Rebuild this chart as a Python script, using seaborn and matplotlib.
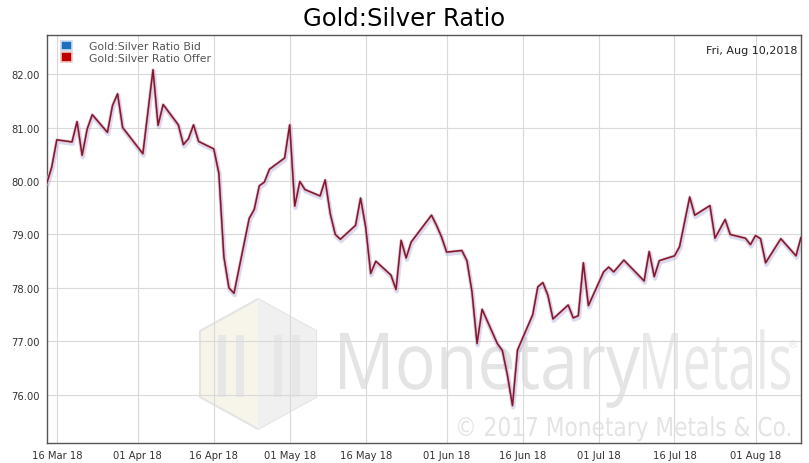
import pandas as pd
import seaborn as sns
import matplotlib.pyplot as plt
import matplotlib.dates as mdates
import matplotlib.patheffects as pe
from matplotlib.patches import Patch, Polygon, Rectangle, PathPatch
from matplotlib.textpath import TextPath
from matplotlib.font_manager import FontProperties
from matplotlib.transforms import Affine2D

dates = [
    '2018-03-14', '2018-03-15', '2018-03-16', '2018-03-19', '2018-03-20', '2018-03-21',
    '2018-03-22', '2018-03-23', '2018-03-26', '2018-03-27', '2018-03-28', '2018-03-29',
    '2018-04-02', '2018-04-04', '2018-04-05', '2018-04-06', '2018-04-09', '2018-04-10',
    '2018-04-11', '2018-04-12', '2018-04-13', '2018-04-16', '2018-04-17', '2018-04-18',
    '2018-04-19', '2018-04-20', '2018-04-23', '2018-04-24', '2018-04-25', '2018-04-26',
    '2018-04-27', '2018-04-30', '2018-05-01', '2018-05-02', '2018-05-03', '2018-05-04',
    '2018-05-07', '2018-05-08', '2018-05-09', '2018-05-10', '2018-05-11', '2018-05-14',
    '2018-05-15', '2018-05-16', '2018-05-17', '2018-05-18', '2018-05-21', '2018-05-22',
    '2018-05-23', '2018-05-24', '2018-05-25', '2018-05-29', '2018-05-30', '2018-05-31',
    '2018-06-01', '2018-06-04', '2018-06-05', '2018-06-06', '2018-06-07', '2018-06-08',
    '2018-06-11', '2018-06-12', '2018-06-13', '2018-06-14', '2018-06-15', '2018-06-18',
    '2018-06-19', '2018-06-20', '2018-06-21', '2018-06-22', '2018-06-25', '2018-06-26',
    '2018-06-27', '2018-06-28', '2018-06-29', '2018-07-02', '2018-07-03', '2018-07-04',
    '2018-07-06', '2018-07-10', '2018-07-11', '2018-07-12', '2018-07-13', '2018-07-16',
    '2018-07-17', '2018-07-19', '2018-07-20', '2018-07-23', '2018-07-24', '2018-07-26',
    '2018-07-27', '2018-07-30', '2018-07-31', '2018-08-01', '2018-08-02', '2018-08-03',
    '2018-08-06', '2018-08-09', '2018-08-10',
]

offer_ratio = [
    79.95, 80.26, 80.77, 80.73, 81.11, 80.48,
    80.97, 81.24, 80.91, 81.41, 81.63, 81.00,
    80.51, 82.08, 81.04, 81.43, 81.05, 80.68,
    80.79, 81.05, 80.74, 80.60, 80.15, 78.58,
    78.00, 77.90, 79.30, 79.47, 79.91, 79.98,
    80.22, 80.43, 81.05, 79.53, 79.99, 79.84,
    79.72, 80.02, 79.39, 79.00, 78.91, 79.17,
    79.68, 79.14, 78.27, 78.50, 78.24, 77.97,
    78.89, 78.56, 78.86, 79.36, 79.17, 78.95,
    78.67, 78.70, 78.51, 77.93, 76.96, 77.60,
    76.96, 76.83, 76.37, 75.80, 76.84, 77.50,
    78.02, 78.10, 77.86, 77.42, 77.68, 77.44,
    77.48, 78.47, 77.67, 78.30, 78.39, 78.30,
    78.52, 78.13, 78.68, 78.21, 78.51, 78.60,
    78.77, 79.70, 79.36, 79.54, 78.93, 79.28,
    79.00, 78.93, 78.81, 78.98, 78.92, 78.47,
    78.92, 78.60, 78.95,
]

# bid sits right under the offer at this scale, same readings
bid_ratio = offer_ratio

tick_dates = ['2018-03-16', '2018-04-01', '2018-04-16', '2018-05-01', '2018-05-16',
              '2018-06-01', '2018-06-16', '2018-07-01', '2018-07-16', '2018-08-01']
y_ticks = [76, 77, 78, 79, 80, 81, 82]

df = pd.DataFrame({'Date': pd.to_datetime(dates), 'Bid': bid_ratio, 'Offer': offer_ratio})

sns.set_style('white')
plt.rcParams['font.family'] = ['DejaVu Sans']

W, H = 809, 464
fig = plt.figure(figsize=(W / 100, H / 100), dpi=100)
ax = fig.add_axes([0.0577, 0.0431, 0.9325, 0.8793])

sns.lineplot(data=df, x='Date', y='Bid', ax=ax, color='#3a3a80', linewidth=1.3, zorder=3,
             path_effects=[pe.SimpleLineShadow(offset=(0.5, -1.3), shadow_color='#9a9ad8',
                                               alpha=0.35, linewidth=3.2), pe.Normal()])
sns.lineplot(data=df, x='Date', y='Offer', ax=ax, color='#851526', linewidth=1.0, zorder=4,
             path_effects=[pe.Stroke(linewidth=2.4, foreground='#f0bcc6', alpha=0.6), pe.Normal()])

ax.set_xlim(pd.Timestamp('2018-03-14'), pd.Timestamp('2018-08-10'))
ax.set_ylim(75.1, 82.73)
ax.set_xticks(pd.to_datetime(tick_dates))
ax.xaxis.set_major_formatter(mdates.DateFormatter('%d %b %y'))
ax.set_yticks(y_ticks)
ax.set_yticklabels([f'{v:.2f}' for v in y_ticks])
ax.tick_params(length=0, labelsize=7.2, labelcolor='#333333', pad=5)
ax.set_xlabel('')
ax.set_ylabel('')
ax.grid(True, color='#d9d9d9', linewidth=0.8)
ax.set_axisbelow(True)
for s in ax.spines.values():
    s.set_color('#555555')
    s.set_linewidth(1.0)

fig.suptitle('Gold:Silver Ratio', fontsize=17.5, y=0.985, color='black')

handles = [Patch(facecolor='#1f6fbf', edgecolor='#c8dcf0', linewidth=1.2),
           Patch(facecolor='#c00000', edgecolor='#eec8c8', linewidth=1.2)]
leg = ax.legend(handles, ['Gold:Silver Ratio Bid', 'Gold:Silver Ratio Offer'],
                loc='upper left', bbox_to_anchor=(0.006, 1.01), frameon=False,
                handlelength=1.0, handleheight=1.0, handletextpad=1.6,
                labelspacing=0.1, fontsize=7.8)
for t in leg.get_texts():
    t.set_color('#555555')

ax.text(0.995, 0.975, 'Fri, Aug 10,2018', transform=ax.transAxes, ha='right', va='top',
        fontsize=8.0, color='#222222')

# watermark, placed in figure pixels (top-left origin)
def add_word(text, x0, x1, baseline, cap, color, family='Open Sans'):
    fp = FontProperties(family=family)
    path = TextPath((0, 0), text, size=100, prop=fp)
    ext = path.get_extents()
    cap_h = TextPath((0, 0), 'M', size=100, prop=fp).get_extents().height
    sx = (x1 - x0) / ext.width
    sy = cap / cap_h
    tr = (Affine2D().translate(-ext.x0, 0).scale(sx / 100, sy / 100)
          .translate(x0 / 100, (H - baseline) / 100) + fig.dpi_scale_trans)
    ax.add_patch(PathPatch(path, transform=tr, facecolor=color, edgecolor='none',
                           zorder=0.2, clip_on=False))

add_word('Monetary', 340, 640, 390, 56, '#e4e4e4')
add_word('Metals', 643, 790, 390, 56, '#e9e9e9')
add_word('\u00a9 2017 Monetary Metals & Co.', 458, 790, 437, 19, '#e4e4e4', 'DejaVu Sans')
add_word('\u00ae', 789, 797, 349, 8, '#e4e4e4', 'DejaVu Sans')

def px(x, y):
    return ((x - 46.7) / (801 - 46.7), (444 - y) / (444 - 36))

logo_kw = dict(transform=ax.transAxes, zorder=0.2, clip_on=False)
ax.add_patch(Polygon([px(258, 300), px(316, 332), px(316, 398), px(258, 430),
                      px(200, 398), px(200, 332)], closed=True,
                     facecolor='#f7f4ea', edgecolor='#e4e4e4', linewidth=1.5, **logo_kw))
ax.add_patch(Polygon([px(258, 300), px(316, 332), px(316, 398), px(258, 430)], closed=True,
                     facecolor='#f0f0f0', edgecolor='none', **logo_kw))
for bx in [218, 236, 274, 292]:
    lo = px(bx, 398)
    hi = px(bx + 8, 336)
    ax.add_patch(Rectangle(lo, hi[0] - lo[0], hi[1] - lo[1], facecolor='#e7e7e7',
                           edgecolor='none', **logo_kw))

fig.savefig('out.png', dpi=100)
